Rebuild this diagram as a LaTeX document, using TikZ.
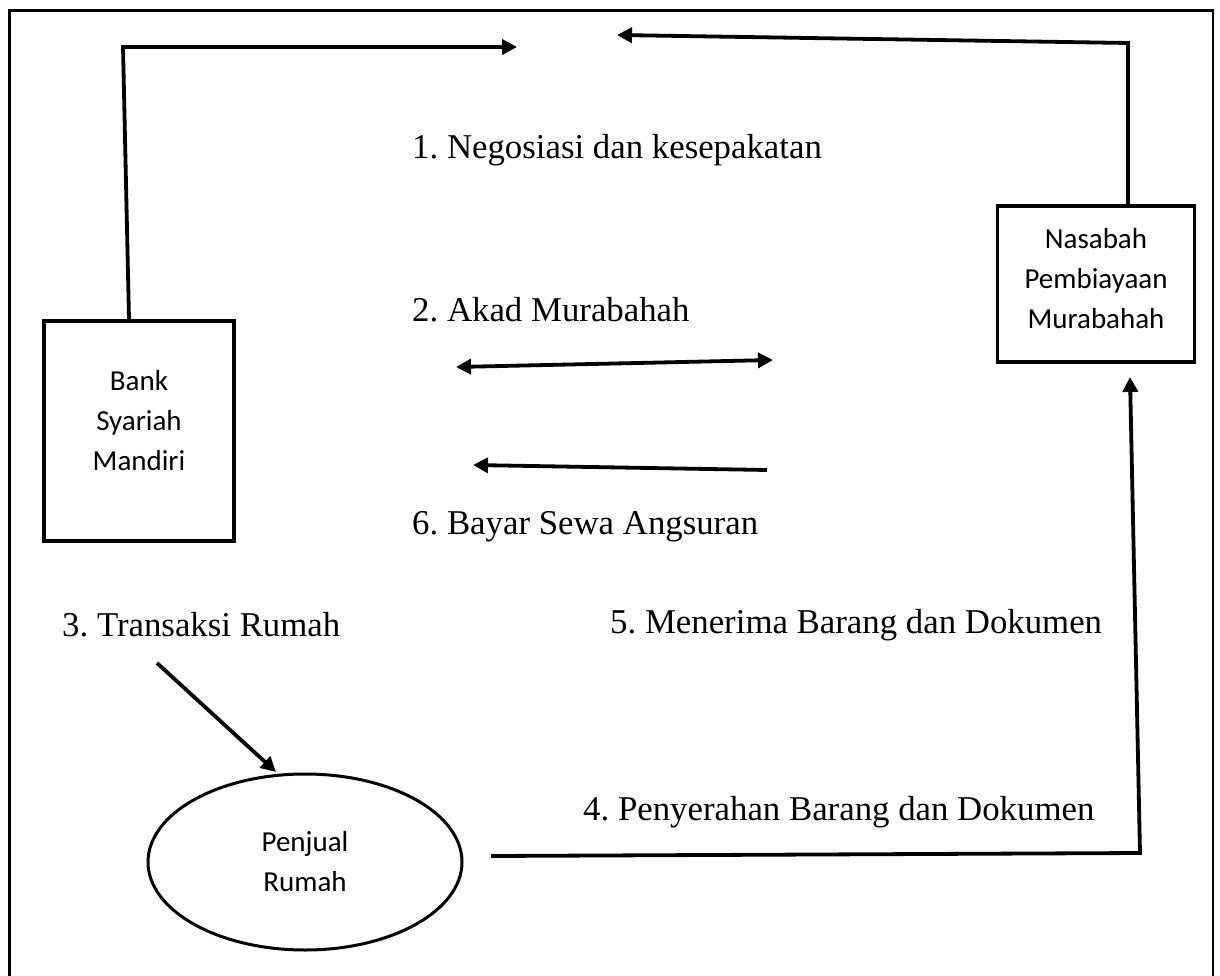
\documentclass[tikz,border=0pt]{standalone}
\usepackage{fontspec}
\setmainfont{Liberation Serif}
\newfontfamily\boxfont{Carlito}
\usetikzlibrary{arrows.meta,shapes.geometric,calc}
\begin{document}
\frenchspacing
\begin{tikzpicture}[x=1pt,y=-1pt,
  conn/.style={line width=3.8pt},
  arr/.style={conn,-{Triangle[length=15pt,width=15pt]}},
  darr/.style={conn,{Triangle[length=15pt,width=15pt]}-{Triangle[length=15pt,width=15pt]}},
  lbl/.style={anchor=west,inner sep=0pt,font=\fontsize{34.8}{40}\selectfont},
  entity/.style={draw,line width=3.8pt,align=center,inner sep=0pt,font=\boxfont\fontsize{29}{40}\selectfont}]
\useasboundingbox (0,0) rectangle (1220,976);
\clip (0,0) rectangle (1220,976);
\draw[line width=2.5pt] (9.5,990) -- (9.5,10.5) -- (1213,10.5) -- (1213,990);
% entities
\node[entity,minimum width=190pt,minimum height=220pt] (bank) at (139,431) {Bank\\Syariah\\Mandiri\\[-18pt]\mbox{}};
\node[entity,minimum width=197pt,minimum height=156pt] (nasabah) at (1096,284) {Nasabah\\Pembiayaan\\Murabahah\\[-28pt]\mbox{}};
\node[entity,ellipse,line width=3pt,minimum width=314pt,minimum height=176pt] (penjual) at (305,862) {Penjual\\Rumah};
% labels
\node[lbl] (l1) at (412,150) {1. Negosiasi dan kesepakatan};
\node[lbl] (l2) at (412,310) {2. Akad Murabahah};
\node[lbl] (l6) at (412,527) {6. Bayar Sewa Angsuran};
\node[lbl] (l3) at (62,625) {3. Transaksi Rumah};
\node[lbl] (l5) at (610,625) {5. Menerima Barang dan Dokumen};
\node[lbl] (l4) at (583,812) {4. Penyerahan Barang dan Dokumen};
% connector points
\coordinate (bt) at (bank.north -| 129,0);
\coordinate (b1) at (123,47);
\coordinate (b2) at (517,47);
\coordinate (n1) at (1128,43);
\coordinate (n2) at (617,35);
\coordinate (d1) at (456,367);
\coordinate (d2) at (773,360);
\coordinate (s1) at (767,470);
\coordinate (s2) at (473,465);
\coordinate (t1) at (157,663);
\coordinate (t2) at (276,772);
\coordinate (p1) at (491,856);
\coordinate (p2) at (1140,853);
\coordinate (pt) at ($(nasabah.south -| 1130,0)+(0,13)$);
% connectors
\draw[arr] (bt) -- (b1) -- (b2);
\draw[arr] (nasabah.north -| n1) -- (n1) -- (n2);
\draw[darr] (d1) -- (d2);
\draw[arr] (s1) -- (s2);
\draw[arr] (t1) -- (t2);
\draw[arr] (p1) -- (p2) -- (pt);
\end{tikzpicture}
\end{document}
